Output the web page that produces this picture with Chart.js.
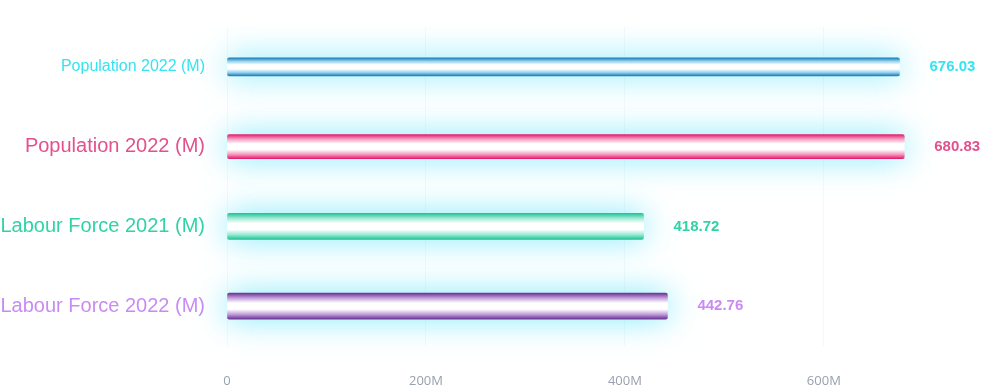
<!DOCTYPE html>
<html>
<head>
<meta charset="utf-8">
<script src="https://cdn.jsdelivr.net/npm/chart.js@4"></script>
<style>
  html, body { margin: 0; padding: 0; background: #ffffff; }
  #chartArea { display: block; }
</style>
</head>
<body>
<canvas id="chartArea" width="983" height="390"></canvas>
<script>
const chartArea = document.getElementById("chartArea");

var categories = ["Population 2022 (M)", "Population 2022 (M)", "Labour Force 2021 (M)", "Labour Force 2022 (M)"];
var values = [676.03, 680.83, 418.72, 442.76];
var xTicks = [0, 200, 400, 600];

var labelColors = ["#35e3f1", "#e2508d", "#2fd3a6", "#c98bf3"];
var edgeColors = ["#1a7db8", "#e31f6e", "#1fc596", "#6a3495"];
var midColors = ["#8fd0ee", "#f59bbf", "#9ae9d1", "#bf9bd8"];
var labelSizes = [16, 20, 20, 20];
var barSizes = [18, 24, 26, 26];

//vertical gradient for each bar: dark edge, white middle
function barGradient(context, i) {
    var chart = context.chart;
    var yScale = chart.scales.y;
    if (!chart.chartArea || !yScale) {
        return edgeColors[i];
    }
    var c = yScale.getPixelForValue(i);
    var t = barSizes[i];
    var g = chart.ctx.createLinearGradient(0, c - t / 2, 0, c + t / 2);
    g.addColorStop(0, edgeColors[i]);
    g.addColorStop(0.18, midColors[i]);
    g.addColorStop(0.38, "#ffffff");
    g.addColorStop(0.62, "#ffffff");
    g.addColorStop(0.82, midColors[i]);
    g.addColorStop(1, edgeColors[i]);
    return g;
}

var datasets = categories.map(function (c, i) {
    return {
        label: c,
        data: values.map(function (v, j) { return j === i ? v : null; }),
        barThickness: barSizes[i],
        backgroundColor: function (ctx) { return barGradient(ctx, i); },
        borderRadius: 2,
        borderSkipped: false,
        clip: false
    };
});

//cyan glow behind the bars
const glowPlugin = {
    id: "glow",
    beforeDatasetDraw(chart) {
        const ctx = chart.ctx;
        ctx.save();
        ctx.shadowColor = "rgba(70, 225, 250, 0.7)";
        ctx.shadowBlur = 32;
        ctx.shadowOffsetX = 0;
        ctx.shadowOffsetY = 0;
    },
    afterDatasetDraw(chart) {
        chart.ctx.restore();
    }
};

//value text to the right of each bar
const valueLabels = {
    id: "valueLabels",
    afterDatasetsDraw(chart) {
        const ctx = chart.ctx;
        ctx.save();
        ctx.font = "bold 15px 'Liberation Sans', Arial, sans-serif";
        ctx.textAlign = "left";
        ctx.textBaseline = "middle";
        for (var i = 0; i < values.length; i++) {
            var el = chart.getDatasetMeta(i).data[i];
            ctx.fillStyle = labelColors[i];
            ctx.fillText(values[i].toFixed(2), el.x + 30, el.y);
        }
        ctx.restore();
    }
};

var barChart = new Chart(chartArea, {
    type: "bar",
    data: {
        labels: categories,
        datasets: datasets
    },
    plugins: [glowPlugin, valueLabels],
    options: {
        indexAxis: "y",
        responsive: false,
        devicePixelRatio: 1,
        animation: false,
        grouped: false,
        layout: { padding: { top: 27, right: 0, bottom: 0, left: 0 } },
        plugins: {
            legend: { display: false },
            tooltip: { enabled: false }
        },
        scales: {
            x: {
                min: 0,
                max: 760,
                afterBuildTicks: function (scale) {
                    scale.ticks = xTicks.map(function (v) { return { value: v }; });
                },
                afterFit: function (scale) { scale.height = 44; },
                grid: { color: "rgba(200, 215, 230, 0.18)", drawTicks: false },
                border: { display: false },
                ticks: {
                    padding: 27,
                    color: "#98a1ae",
                    font: { family: "'Open Sans', sans-serif", size: 13 },
                    callback: function (v) { return v === 0 ? "0" : v + "M"; }
                }
            },
            y: {
                afterFit: function (scale) {
                    scale.width = 227;
                    scale.paddingTop = 0;
                    scale.paddingBottom = 0;
                },
                grid: { display: false, drawTicks: false },
                border: { display: false },
                ticks: {
                    padding: 22,
                    color: function (ctx) { return labelColors[ctx.index]; },
                    font: function (ctx) {
                        return { family: "'Liberation Sans', Arial, sans-serif", size: labelSizes[ctx.index] };
                    }
                }
            }
        }
    }
});
</script>
</body>
</html>
